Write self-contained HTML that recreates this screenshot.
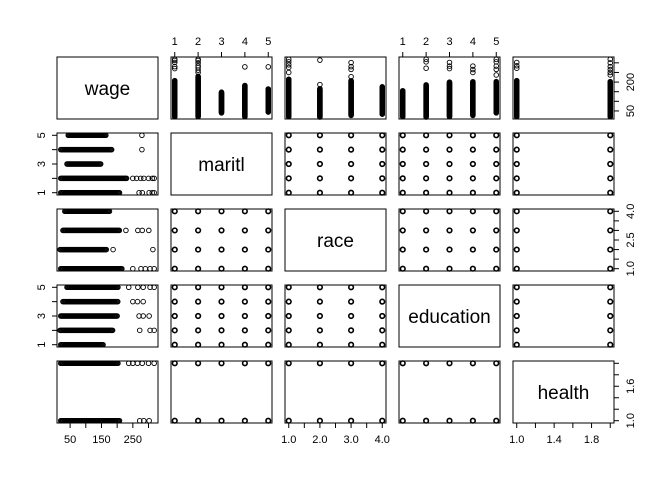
<!DOCTYPE html>
<html><head><meta charset="utf-8"><style>
html,body{margin:0;padding:0;background:#fff}
svg{display:block;font-family:"Liberation Sans",sans-serif}
</style></head><body>
<svg id="chart" width="672" height="480" viewBox="0 0 672 480" xmlns="http://www.w3.org/2000/svg"></svg>
<script>
const varNames = ["wage","maritl","race","education","health"];
const varLo = [20.09, 1, 1, 1, 1];
const varHi = [318.34, 5, 4, 5, 2];
const levelCounts = [0, 5, 4, 5, 2];
// wage by category: dense range and outliers
const maritlDense = [[20,209],[20,231],[40,148],[20,184],[44,165]];
const maritlOut = [[270,280,302,312,318],[250,262,275,285,300,312,318],[],[279],[279]];
const raceDense = [[20,215],[18,167],[27,209],[33,177]];
const raceOut = [[250,276,290,305,318],[187,314],[228,266,280,301],[]];
const eduDense = [[20,155],[18,187],[20,200],[27,203],[40,203]];
const eduOut = [[],[272,305,318],[270,283,302],[250,265,283],[237,266,283,305,318]];
const healthDense = [[20,209],[20,203]];
const healthOut = [[272,285,302],[237,250,265,280,300,318]];
const wageTicks = [50,100,150,200,250,300];
const wageTickLabels = ["50","","150","","250",""];
const wageTickLabelsRight = ["50","","","200","",""];
const catTicks = [1,2,3,4,5];
const catTickLabelsTop = ["1","2","3","4","5"];
const catTickLabelsLeft = ["1","","3","","5"];
const raceTicks = [1,1.5,2,2.5,3,3.5,4];
const raceTickLabelsBottom = ["1.0","","2.0","","3.0","","4.0"];
const raceTickLabelsRight = ["1.0","","","2.5","","","4.0"];
const healthTicks = [1,1.2,1.4,1.6,1.8,2.0];
const healthTickLabelsBottom = ["1.0","","1.4","","1.8",""];
const healthTickLabelsRight = ["1.0","","","1.6","",""];

const NS = "http://www.w3.org/2000/svg";
const svg = document.getElementById("chart");
const X0 = [57,171,285,399,513], Y0 = [57,133,209,285,361], W = 101, H = 62;
function mk(tag, attrs, parent){const e=document.createElementNS(NS,tag);for(const k in attrs)e.setAttribute(k,attrs[k]);(parent||svg).appendChild(e);return e;}
function sx(v, col){const lo=varLo[col],hi=varHi[col],p=(hi-lo)*0.04;return X0[col]+(v-(lo-p))/((hi-lo)+2*p)*W;}
function sy(v, row){const lo=varLo[row],hi=varHi[row],p=(hi-lo)*0.04;return Y0[row]+H-(v-(lo-p))/((hi-lo)+2*p)*H;}
const denseSets = [null,maritlDense,raceDense,eduDense,healthDense];
const outSets = [null,maritlOut,raceOut,eduOut,healthOut];
function wageValues(v,k){const d=denseSets[v][k];const vals=[];for(let w=d[0];w<=d[1];w+=2.5)vals.push(w);return vals.concat(outSets[v][k]);}
function pt(g,x,y,sw){const c=mk("circle",{cx:x.toFixed(2),cy:y.toFixed(2),r:2.3,fill:"none",stroke:"#000","stroke-width":sw||0.9},g);}

for(let r=0;r<5;r++)for(let c=0;c<5;c++){
  const g=mk("g",{});
  
  
  if(r!==c){
    if(c===0){
      for(let k=0;k<levelCounts[r];k++) wageValues(r,k).forEach(w=>pt(g,sx(w,0),sy(k+1,r)));
    } else if(r===0){
      for(let k=0;k<levelCounts[c];k++) wageValues(c,k).forEach(w=>pt(g,sx(k+1,c),sy(w,0)));
    } else {
      for(let a=1;a<=levelCounts[c];a++)for(let b=1;b<=levelCounts[r];b++)pt(g,sx(a,c),sy(b,r),1.6);
    }
  }
  const fr=mk("rect",{x:X0[c],y:Y0[r],width:W,height:H,fill:"none",stroke:"#000","stroke-width":1},g);
  
  
  if(r===c){
    const t=mk("text",{x:X0[c]+W/2,y:Y0[r]+H/2+7,"text-anchor":"middle","font-size":19},g);
    t.textContent=varNames[r];
    
    
  }
}
function axis(side, idx, ticks, labels, scale, name){
  const g=mk("g",{stroke:"#000","stroke-width":1});
  
  
  const pos=ticks.map(t=>scale(t,idx));
  if(side==="top"||side==="bottom"){
    const yb=side==="top"?Y0[0]:Y0[4]+H, d=side==="top"?-5:5;
    mk("line",{x1:pos[0],x2:pos[pos.length-1],y1:yb,y2:yb},g);
    pos.forEach((p,i)=>{mk("line",{x1:p,x2:p,y1:yb,y2:yb+d},g);
      if(labels[i]){const t=mk("text",{x:p,y:side==="top"?yb-12:yb+20,"text-anchor":"middle","font-size":11,stroke:"none",fill:"#000"},g);t.textContent=labels[i];}});
  } else {
    const xb=side==="left"?X0[0]:X0[4]+W, d=side==="left"?-5:5;
    mk("line",{y1:pos[0],y2:pos[pos.length-1],x1:xb,x2:xb},g);
    pos.forEach((p,i)=>{mk("line",{y1:p,y2:p,x1:xb,x2:xb+d},g);
      if(labels[i]){const lx=side==="left"?xb-12:xb+20;const t=mk("text",{x:lx,y:p,"text-anchor":"middle","font-size":11,stroke:"none",fill:"#000",transform:"rotate(-90 "+lx+" "+p+")"},g);t.textContent=labels[i];}});
  }
}
axis("top",1,catTicks,catTickLabelsTop,sx,"maritl-top-axis");
axis("top",3,catTicks,catTickLabelsTop,sx,"education-top-axis");
axis("bottom",0,wageTicks,wageTickLabels,sx,"wage-bottom-axis");
axis("bottom",2,raceTicks,raceTickLabelsBottom,sx,"race-bottom-axis");
axis("bottom",4,healthTicks,healthTickLabelsBottom,sx,"health-bottom-axis");
axis("left",1,catTicks,catTickLabelsLeft,sy,"maritl-left-axis");
axis("left",3,catTicks,catTickLabelsLeft,sy,"education-left-axis");
axis("right",0,wageTicks,wageTickLabelsRight,sy,"wage-right-axis");
axis("right",2,raceTicks,raceTickLabelsRight,sy,"race-right-axis");
axis("right",4,healthTicks,healthTickLabelsRight,sy,"health-right-axis");
</script>
</body></html>
